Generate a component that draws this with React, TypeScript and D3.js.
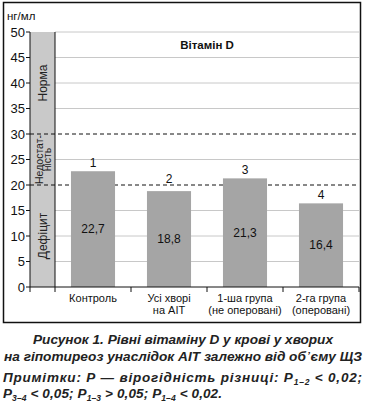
import { useMemo } from "react";
import * as d3 from "d3";

// group labels (two lines each), group numbers and mean vitamin D levels, ng/ml
const categories = [
  ["Контроль"],
  ["Усі хворі", "на АІТ"],
  ["1-ша група", "(не оперовані)"],
  ["2-га група", "(оперовані)"],
];
const groupNumbers = ["1", "2", "3", "4"];
const values = [22.7, 18.8, 21.3, 16.4];
const valueLabels = ["22,7", "18,8", "21,3", "16,4"];
const yTicks = [0, 5, 10, 15, 20, 25, 30, 35, 40, 45, 50];
const thresholds = [20, 30];
const zones = [
  { from: 30, to: 50, lines: ["Норма"] },
  { from: 20, to: 30, lines: ["Недостат-", "ність"] },
  { from: 0, to: 20, lines: ["Дефіцит"] },
];

const FONT = "Liberation Sans, Arial, sans-serif";

export default function App() {
  const width = 367;
  const height = 404;
  const plot = { left: 30, right: 359, top: 32, bottom: 287 };
  const bandW = 25;

  const y = useMemo(
    () => d3.scaleLinear().domain([0, 50]).range([plot.bottom, plot.top]),
    [],
  );
  const x = useMemo(
    () =>
      d3
        .scaleBand<number>()
        .domain(d3.range(values.length))
        .range([plot.left + bandW, plot.right])
        .paddingInner(0.42)
        .paddingOuter(0.21),
    [],
  );
  const step = x.step();
  const catStart = plot.left + bandW;
  const xTicks = [plot.left, ...d3.range(values.length + 1).map((i) => catStart + i * step)];

  // keep the group number clear of a dashed threshold line
  const numberY = (v: number) => {
    let ly = y(v) - 4;
    for (const t of thresholds) {
      if (y(t) > ly - 9 && y(t) < ly + 1) ly = y(t) - 2;
    }
    return ly;
  };

  return (
    <div style={{ position: "absolute", left: 0, top: 0, width, height, overflow: "hidden" }}>
      <svg width={width} height={height} style={{ display: "block" }} fontFamily={FONT}>
        {/* outer frame */}
        <rect x={3.5} y={2.5} width={357} height={320} fill="none" stroke="#111" strokeWidth={1.5} />

        {/* reference zone band */}
        <rect
          x={plot.left}
          y={plot.top}
          width={bandW}
          height={plot.bottom - plot.top}
          fill="#c9c9c9"
        />

        {/* gridlines */}
        {yTicks
          .filter((t) => t > 0 && !thresholds.includes(t))
          .map((t) => (
            <line
              key={t}
              x1={plot.left + bandW}
              x2={plot.right}
              y1={y(t)}
              y2={y(t)}
              stroke="#c8c8c8"
              strokeWidth={1}
            />
          ))}
        {thresholds.map((t) => (
          <line
            key={t}
            x1={plot.left}
            x2={plot.right - 2}
            y1={y(t)}
            y2={y(t)}
            stroke="#111"
            strokeWidth={1}
            strokeDasharray="4 3"
          />
        ))}

        {/* band divider */}
        <line
          x1={plot.left + bandW}
          x2={plot.left + bandW}
          y1={plot.top}
          y2={plot.bottom}
          stroke="#111"
          strokeWidth={1}
        />

        {/* zone labels */}
        {zones.map((z) => {
          const cy = (y(z.from) + y(z.to)) / 2;
          const cx = plot.left + bandW / 2;
          const lh = 8;
          return (
            <text
              key={z.lines[0]}
              transform={`translate(${cx},${cy}) rotate(-90)`}
              textAnchor="middle"
              fontSize={z.lines.length > 1 ? 10.5 : 12}
              fill="#222"
            >
              {z.lines.map((l, i) => (
                <tspan key={l} x={0} y={(i - (z.lines.length - 1) / 2) * lh + 4}>
                  {l}
                </tspan>
              ))}
            </text>
          );
        })}

        {/* bars */}
        {values.map((v, i) => {
          const bx = x(i) ?? 0;
          const cx = bx + x.bandwidth() / 2;
          return (
            <g key={i}>
              <rect
                x={bx}
                y={y(v)}
                width={x.bandwidth()}
                height={plot.bottom - y(v)}
                fill="#a5a5a5"
              />
              <text x={cx} y={numberY(v)} textAnchor="middle" fontSize={12} fill="#111">
                {groupNumbers[i]}
              </text>
              <text
                x={cx}
                y={(y(v) + plot.bottom) / 2 + 4}
                textAnchor="middle"
                fontSize={12}
                fill="#111"
              >
                {valueLabels[i]}
              </text>
              <text textAnchor="middle" fontSize={11} fill="#111">
                {categories[i].map((l, j) => (
                  <tspan key={l} x={cx} y={plot.bottom + 15 + j * 12}>
                    {l}
                  </tspan>
                ))}
              </text>
            </g>
          );
        })}

        {/* axes */}
        <line x1={plot.left} x2={plot.left} y1={plot.top} y2={plot.bottom} stroke="#111" />
        <line x1={plot.left} x2={plot.right} y1={plot.bottom} y2={plot.bottom} stroke="#111" />
        {yTicks.map((t) => (
          <g key={t}>
            <line x1={plot.left - 4} x2={plot.left} y1={y(t)} y2={y(t)} stroke="#111" />
            <text x={plot.left - 5} y={y(t) + 4.5} textAnchor="end" fontSize={13} fill="#111">
              {t}
            </text>
          </g>
        ))}
        {xTicks.map((tx, i) => (
          <line key={i} x1={tx} x2={tx} y1={plot.bottom} y2={plot.bottom + 5} stroke="#111" />
        ))}

        <text x={7} y={20} fontSize={11.5} fill="#111">
          нг/мл
        </text>
        <text x={207} y={49} textAnchor="middle" fontSize={11.5} fontWeight="bold" fill="#111">
          Вітамін D
        </text>

        {/* caption */}
        <g fontStyle="italic" fontWeight="bold" fontSize={13.5} fill="#222">
          <text x={183} y={344} textAnchor="middle" textLength={300} lengthAdjust="spacingAndGlyphs">
            Рисунок 1.  Рівні вітаміну D у крові у хворих
          </text>
          <text x={183} y={361} textAnchor="middle" textLength={358} lengthAdjust="spacingAndGlyphs">
            на гіпотиреоз унаслідок АІТ залежно від об᾽єму ЩЗ
          </text>
          <text x={3} y={382} textLength={359} lengthAdjust="spacing">
            Примітки:  Р  —  вірогідність  різниці:  Р
            <tspan fontSize={8.5} dy={3}>1–2</tspan>
            <tspan dy={-3}>{"  <  0,02;"}</tspan>
          </text>
          <text x={3} y={398} textLength={219} lengthAdjust="spacing">
            Р<tspan fontSize={8.5} dy={3}>3–4</tspan>
            <tspan dy={-3}>{" <  0,05; Р"}</tspan>
            <tspan fontSize={8.5} dy={3}>1–3</tspan>
            <tspan dy={-3}>{" > 0,05; Р"}</tspan>
            <tspan fontSize={8.5} dy={3}>1–4</tspan>
            <tspan dy={-3}>{" < 0,02."}</tspan>
          </text>
        </g>
      </svg>
    </div>
  );
}
